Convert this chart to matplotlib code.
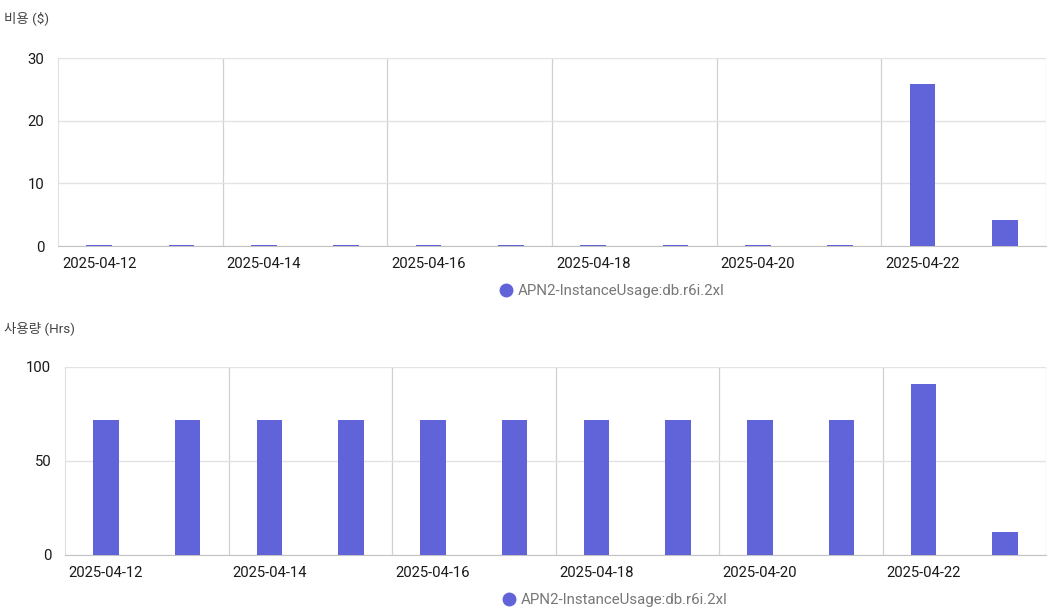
import matplotlib
matplotlib.use("Agg")
import matplotlib.pyplot as plt
from matplotlib.lines import Line2D

plt.rcParams['font.family'] = ['Roboto', 'Noto Sans CJK KR', 'DejaVu Sans']

dates = ["2025-04-12", "2025-04-13", "2025-04-14", "2025-04-15", "2025-04-16", "2025-04-17",
         "2025-04-18", "2025-04-19", "2025-04-20", "2025-04-21", "2025-04-22", "2025-04-23"]
cost = [0.12, 0.12, 0.12, 0.12, 0.12, 0.12, 0.12, 0.12, 0.12, 0.12, 25.9, 4.2]
usage = [72, 72, 72, 72, 72, 72, 72, 72, 72, 72, 91, 12]
series_name = "APN2-InstanceUsage:db.r6i.2xl"
BAR_COLOR = "#6163d9"

W, H = 1048, 612
fig = plt.figure(figsize=(W / 100, H / 100), dpi=100)


def px_axes(left, top, right, bottom):
    return fig.add_axes([left / W, 1 - bottom / H, (right - left) / W, (bottom - top) / H])


def draw(ax, values, yticks, ylabel, label_y):
    x = list(range(len(values)))
    ax.bar(x, values, width=0.31, color=BAR_COLOR, zorder=5)
    ax.set_xlim(-0.5, len(values) - 0.5)
    ax.set_ylim(0, yticks[-1])
    ax.set_yticks(yticks)
    ax.set_xticks(x[::2])
    ax.set_xticklabels(dates[::2])
    # vertical gridlines between every second day
    for g in [1.5, 3.5, 5.5, 7.5, 9.5, 11.5]:
        ax.axvline(g, color="#d0d0d0", lw=0.9, zorder=1)
    ax.grid(axis="y", color="#e3e3e3", lw=1, zorder=1)
    for s in ["top", "right"]:
        ax.spines[s].set_visible(False)
    ax.spines["left"].set_color("#e0e0e0")
    ax.spines["bottom"].set_color("#c4c4c4")
    ax.spines["bottom"].set_zorder(4)
    ax.tick_params(length=0, labelsize=10.7, colors="#1a1a1a", pad=8)
    ax.tick_params(axis="y", pad=10)
    fig.text(4 / W, 1 - label_y / H, ylabel, fontsize=9.7, color="#444444", va="center")
    handle = Line2D([], [], marker="o", color=BAR_COLOR, linestyle="none", markersize=9)
    leg = ax.legend([handle], [series_name], loc="upper center", bbox_to_anchor=(0.56, -0.13),
                    frameon=False, fontsize=10.8, handletextpad=0.25, handlelength=1)
    for t in leg.get_texts():
        t.set_color("#777777")


ax1 = px_axes(58, 58, 1046, 246)
draw(ax1, cost, [0, 10, 20, 30], "비용 ($)", 18)

ax2 = px_axes(65, 367, 1046, 555)
draw(ax2, usage, [0, 50, 100], "사용량 (Hrs)", 328)

fig.savefig("out.png", dpi=100)
